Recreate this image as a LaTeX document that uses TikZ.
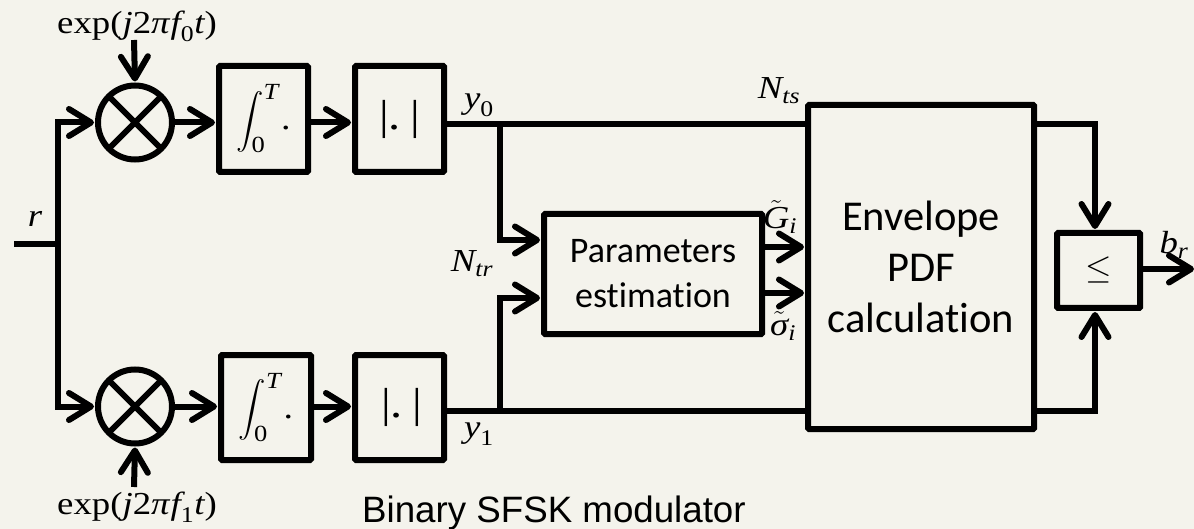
\RequirePackage{fix-cm}
\documentclass[tikz,border=0pt]{standalone}
\usepackage{fontspec}
\usepackage{amsmath}
\usepackage{graphicx}
\setmainfont[Ligatures=NoCommon]{Carlito}
\newfontfamily\arialfont{Liberation Sans}
\newfontfamily\cam[FakeStretch=1.15]{Liberation Serif}
\newcommand{\mi}[1]{\text{\cam\itshape #1}}
\newcommand{\mr}[1]{\text{\cam #1}}
\usetikzlibrary{arrows.meta}
\definecolor{paper}{HTML}{F4F3EC}
\tikzset{
  x=1pt,y=-1pt,
  wire/.style={line width=6pt,line join=miter},
  sig/.style={wire,-{Straight Barb[length=22pt,width=27pt,line width=6pt,round]},shorten >=1pt},
  blockbox/.style={draw,line width=6pt,rounded corners=1pt,inner sep=0pt,align=center,minimum width=#1},
  mixer/.style={draw,circle,line width=6pt,minimum size=74pt,inner sep=0pt,
    path picture={\draw[line width=6pt] (path picture bounding box.north west)--(path picture bounding box.south east)
      (path picture bounding box.north east)--(path picture bounding box.south west);}},
  mathlab/.style={inner sep=0pt,font=\fontsize{32}{38}\selectfont},
  lab/.style={inner sep=0pt,font=\fontsize{32}{38}\selectfont},
  wordsmid/.style={font=\fontsize{36}{45}\selectfont},
  wordsbig/.style={font=\fontsize{42.5}{51}\selectfont},
  inbox/.style={font=\fontsize{30}{36}\selectfont},
}
\newcommand{\integ}{\scalebox{1.1}{$\displaystyle\int_{\mr{0}}^{\mi{T}}\hspace{-3pt}\mr{.}$}}
\newcommand{\absv}{\raisebox{1pt}{\fontsize{42}{46}\selectfont\cam |.\hspace{9pt}|}}
\begin{document}
\begin{tikzpicture}
\useasboundingbox[fill=paper] (0,0) rectangle (1194,529);
% blocks
\node[mixer] (m0) at (135,122.5) {};
\node[mixer] (m1) at (135,406.5) {};
\node[blockbox=89pt,minimum height=106pt,inbox] (i0) at (263.5,119) {\integ};
\node[blockbox=90pt,minimum height=105pt,inbox] (i1) at (266,407.5) {\integ};
\node[blockbox=89pt,minimum height=106pt,inbox] (a0) at (399.5,119) {\absv};
\node[blockbox=89pt,minimum height=105pt,inbox] (a1) at (399.5,407.5) {\hspace{4pt}\absv};
\node[blockbox=218pt,minimum height=120pt,wordsmid] (pe) at (653,274) {Parameters\\estimation};
\node[blockbox=226pt,minimum height=324pt,wordsbig] (env) at (921,267) {Envelope\\PDF\\calculation};
\node[blockbox=83pt,minimum height=75pt,font=\fontsize{34}{40}\selectfont] (cmp) at (1098.5,270.5) {\raisebox{-3pt}{$\leq$}};
% free ends and corners
\coordinate (rin) at (14,244);
\coordinate (rj) at (58,244);
\coordinate (c0) at (58,122.5);
\coordinate (c1) at (58,406.5);
\coordinate (lo0) at (134,40);
\coordinate (lo1) at (134,487);
\coordinate (j0) at (500,124);
\coordinate (j1) at (500,411);
\coordinate (pin0) at (500,240);
\coordinate (pin1) at (500,298);
\coordinate (envi0) at (805,124);
\coordinate (envi1) at (805,411);
\coordinate (envo0) at (1037,124);
\coordinate (envo1) at (1037,411);
\coordinate (r0) at (1095,124);
\coordinate (r1) at (1095,411);
\coordinate (out) at (1194,269);
% connectors
\draw[wire] (rin) -- (rj);
\draw[sig] (rj) -- (c0) -- (m0.west);
\draw[sig] (rj) -- (c1) -- (m1.west);
\draw[sig] (lo0) -- (m0.north);
\draw[sig] (lo1) -- (m1.south);
\draw[sig] (m0.east) -- (m0.east -| i0.west);
\draw[sig] (m1.east) -- (m1.east -| i1.west);
\draw[sig] (i0.east |- m0.east) -- (a0.west |- m0.east);
\draw[sig] (i1.east |- m1.east) -- (a1.west |- m1.east);
\draw[wire] (a0.east |- j0) -- (envi0);
\draw[wire] (a1.east |- j1) -- (envi1);
\draw[sig] (j0) -- (pin0) -- (pin0 -| pe.west);
\draw[sig] (j1) -- (pin1) -- (pin1 -| pe.west);
\draw[sig] (pe.east |- 0,247) -- (env.west |- 0,247);
\draw[sig] (pe.east |- 0,293) -- (env.west |- 0,293);
\draw[sig] (envo0) -- (r0) -- (r0 |- cmp.north);
\draw[sig] (envo1) -- (r1) -- (r1 |- cmp.south);
\draw[sig,shorten >=0pt] (cmp.east |- out) -- (out);
% labels
\node[mathlab] (t0) at (137,26) {$\mr{exp(}\mi{j}\mr{2}\mi{π\kern1pt f}_{\mr{0}}\mi{t}\mr{)}$};
\node[mathlab] (t1) at (137,507) {$\mr{exp(}\mi{j}\mr{2}\mi{π\kern1pt f}_{\mr{1}}\mi{t}\mr{)}$};
\node[lab] (tr) at (35,219) {$\mi{r}$};
\node[lab] (ty0) at (479,105) {$\mi{y}_{\mr{0}}$};
\node[lab] (ty1) at (479,434) {$\mi{y}_{\mr{1}}$};
\node[lab] (tnts) at (779,91) {$\mi{N}_{\mi{ts}}$};
\node[lab] (tntr) at (472,264) {$\mi{N}_{\mi{tr}}$};
\node[lab] (tg) at (780,217) {$\tilde{\mi{G}}_{\mi{i}}$};
\node[lab] (ts) at (783,326) {$\tilde{\mi{σ}}_{\mi{i}}$};
\node[lab] (tb) at (1174,245) {$\mi{b}_{\mi{r}}$};
\node[inner sep=0pt,anchor=base west,font=\arialfont\fontsize{36.7}{44}\selectfont] (cap) at (362,522) {Binary SFSK modulator};
\end{tikzpicture}
\end{document}
